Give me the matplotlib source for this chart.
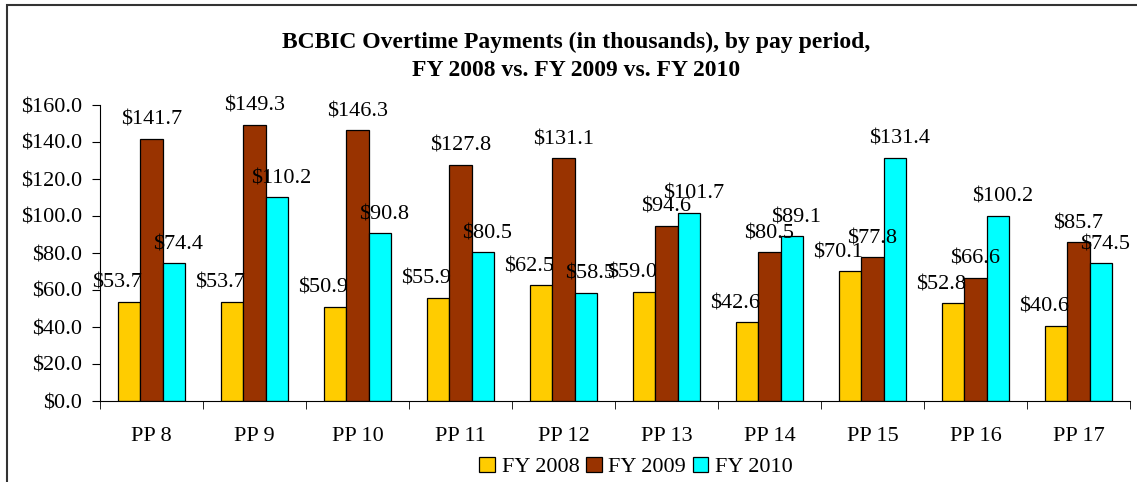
import numpy as np
import matplotlib.pyplot as plt
from matplotlib.patches import Rectangle

plt.rcParams['font.family'] = ['Liberation Serif', 'DejaVu Serif']

periods = ['PP 8', 'PP 9', 'PP 10', 'PP 11', 'PP 12', 'PP 13', 'PP 14', 'PP 15', 'PP 16', 'PP 17']
fy2008 = [53.7, 53.7, 50.9, 55.9, 62.5, 59.0, 42.6, 70.1, 52.8, 40.6]
fy2009 = [141.7, 149.3, 146.3, 127.8, 131.1, 94.6, 80.5, 77.8, 66.6, 85.7]
fy2010 = [74.4, 110.2, 90.8, 80.5, 58.5, 101.7, 89.1, 131.4, 100.2, 74.5]
series = [('FY 2008', fy2008, '#FFCC00', -12),
          ('FY 2009', fy2009, '#993300', 0),
          ('FY 2010', fy2010, '#00FFFF', 4)]

fig = plt.figure(figsize=(11.37, 4.82), dpi=100)
ax = fig.add_axes([100 / 1137, 1 - 401 / 482, 1030 / 1137, 296 / 482])

# outer chart frame (runs off the right and bottom edge)
fig.patches.append(Rectangle((7 / 1137, -0.05), 1.1, 1 - 5 / 482 + 0.05,
                             transform=fig.transFigure, fill=False,
                             edgecolor='#333333', linewidth=1.5))

x = np.arange(len(periods))
w = 0.22
px = 0.72  # points per pixel at 100 dpi
for i, (name, vals, col, dx) in enumerate(series):
    pos = x + (i - 1) * w
    ax.bar(pos, vals, w, color=col, edgecolor='black', linewidth=0.9, label=name)
    for p, v in zip(pos, vals):
        ax.annotate(f'${v:.1f}', xy=(p, v), xytext=(dx * px, 14 * px),
                    textcoords='offset points', ha='center', va='baseline',
                    fontsize=16)

ax.set_xlim(-0.5, len(periods) - 0.5)
ax.set_ylim(0, 160)
ax.set_yticks(np.arange(0, 161, 20))
ax.set_yticklabels([f'${t:.1f}' for t in np.arange(0, 161, 20)], fontsize=16)
ax.set_xticks(x)
ax.set_xticklabels(periods, fontsize=16)
ax.tick_params(axis='x', length=0, pad=19)
ax.set_xticks(np.arange(-0.5, len(periods), 1), minor=True)
ax.tick_params(axis='x', which='minor', length=6, direction='out')
ax.tick_params(axis='y', length=6, direction='out', pad=7)
for s in ['top', 'right']:
    ax.spines[s].set_visible(False)

fig.text(576 / 1137, 1 - 42 / 482, 'BCBIC Overtime Payments (in thousands), by pay period,',
         ha='center', va='center', fontsize=17, fontweight='bold')
fig.text(576 / 1137, 1 - 70 / 482, 'FY 2008 vs. FY 2009 vs. FY 2010',
         ha='center', va='center', fontsize=17, fontweight='bold')

fig.legend(loc='center', bbox_to_anchor=(636 / 1137, 1 - 467 / 482), ncol=3,
           frameon=False, fontsize=16, handlelength=0.7, handleheight=0.7,
           handletextpad=0.3, columnspacing=0.3, borderpad=0.1)

fig.savefig('out.png', dpi=100)
